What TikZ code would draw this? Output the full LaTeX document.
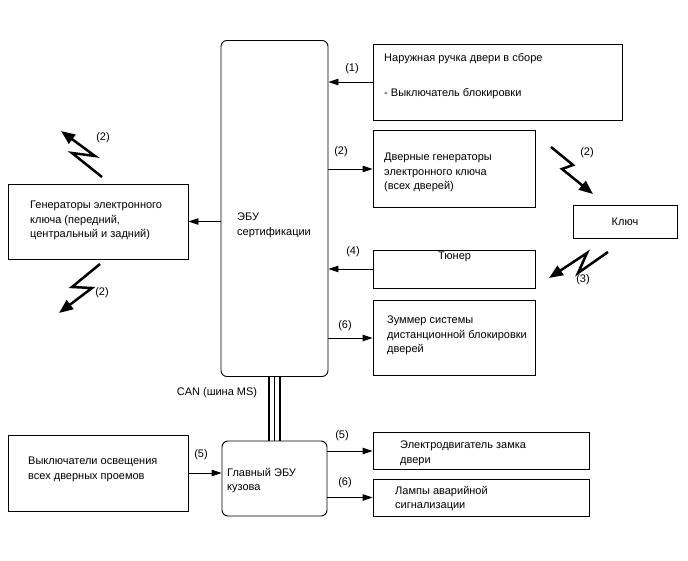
\documentclass[tikz,border=0pt]{standalone}
\usepackage{fontspec}
\setmainfont{Liberation Sans}
\usetikzlibrary{arrows.meta}

\begin{document}
\begin{tikzpicture}[x=1pt,y=-1pt,
  every node/.style={inner sep=0pt},
  box/.style={draw=black,line width=0.9pt},
  ecubox/.style={box,rounded corners=6pt},
  txt/.style={anchor=north west,align=left,font=\fontsize{11}{14.5}\selectfont},
  lbl/.style={font=\fontsize{11}{12}\selectfont},
  sig/.style={-{Triangle[length=10pt,width=6.5pt]},line width=0.9pt},
  bolt/.style={-{Triangle[length=14pt,width=11pt]},line width=2.5pt}]
      \useasboundingbox (0,0) rectangle (688,560);
      \node [ecubox,minimum width=107pt,minimum height=336pt] (ecu) at (274.5,208.5) {};
      \node [txt] (ecutxt) at (237,213) {ЭБУ\\сертификации};
      \node [box,minimum width=249pt,minimum height=76pt] (hand) at (497.5,82) {};
      \node [txt] (handtxt) at (384,53) {Наружная ручка двери в сборе};
      \node [txt] (locktxt) at (384,88) {- Выключатель блокировки};
      \node [box,minimum width=162pt,minimum height=77pt] (doorgen) at (454,169) {};
      \node [txt] (doorgentxt) at (384,153) {Дверные генераторы\\электронного ключа\\(всех дверей)};
      \node [box,minimum width=162pt,minimum height=38pt] (tuner) at (454,269) {};
      \node [txt] (tunertxt) at (438,252) {Тюнер};
      \node [box,minimum width=162pt,minimum height=75pt] (buzzer) at (454,338) {};
      \node [txt] (buzzertxt) at (387,316) {Зуммер системы\\дистанционной блокировки\\дверей};
      \node [box,minimum width=104pt,minimum height=33pt] (key) at (625,221.5) {};
      \node [lbl] (keytxt) at (key) {Ключ};
      \node [box,minimum width=180pt,minimum height=75pt] (keygen) at (98,221.5) {};
      \node [txt] (keygentxt) at (30,201) {Генераторы электронного\\ключа (передний,\\центральный и задний)};
      \node [ecubox,minimum width=105pt,minimum height=75pt] (bcm) at (274.5,478.5) {};
      \node [txt] (bcmtxt) at (227,468) {Главный ЭБУ\\кузова};
      \node [box,minimum width=180pt,minimum height=76pt] (lightsw) at (98,473) {};
      \node [txt] (lightswtxt) at (28,457) {Выключатели освещения\\всех дверных проемов};
      \node [box,minimum width=216pt,minimum height=37pt] (motor) at (481,451) {};
      \node [txt] (motortxt) at (400,441) {Электродвигатель замка\\двери};
      \node [box,minimum width=216pt,minimum height=37pt] (lamps) at (481,497.5) {};
      \node [txt] (lampstxt) at (395,486) {Лампы аварийной\\сигнализации};
      \draw [sig] (hand.west) -- (hand.west -| ecu.east);
      \node [lbl] (l1) at (352,69) {(1)};
      \draw [sig] (ecu.east |- doorgen.west) -- (doorgen.west);
      \node [lbl] (l2) at (341,152) {(2)};
      \draw [sig] (tuner.west) -- (tuner.west -| ecu.east);
      \node [lbl] (l4) at (353,252) {(4)};
      \draw [sig] (ecu.east |- buzzer.west) -- (buzzer.west);
      \node [lbl] (l6) at (345,326) {(6)};
      \draw [sig] (ecu.west |- keygen.east) -- (keygen.east);
      \draw [sig] (lightsw.east) -- (lightsw.east -| bcm.west);
      \node [lbl] (l5a) at (201,455) {(5)};
      \draw [sig] (bcm.east |- motor.west) -- (motor.west);
      \node [lbl] (l5b) at (342,436) {(5)};
      \draw [sig] (bcm.east |- lamps.west) -- (lamps.west);
      \node [lbl] (l6b) at (345,483) {(6)};
      \foreach \dx/\lw in {-5.5/1.4pt,0/0.7pt,5.5/1.4pt}
        \draw [line width=\lw] ([xshift=\dx pt]ecu.south) -- ([xshift=\dx pt]bcm.north);
      \node [lbl] (can) at (217,393) {CAN (шина MS)};
      \draw [bolt] (102,177) -- (72,153) -- (95,156) -- (61,131);
      \node [lbl] (b1) at (103,138) {(2)};
      \draw [bolt] (100,264) -- (72,287) -- (92,288) -- (59,313);
      \node [lbl] (b2) at (102,293) {(2)};
      \draw [bolt] (551,147) -- (573,165) -- (562,169) -- (593,194);
      \node [lbl] (b3) at (587,153) {(2)};
      \draw [bolt] (608,252) -- (578,273) -- (587,253) -- (549,278);
      \node [lbl] (b4) at (583,280) {(3)};
\end{tikzpicture}
\end{document}
